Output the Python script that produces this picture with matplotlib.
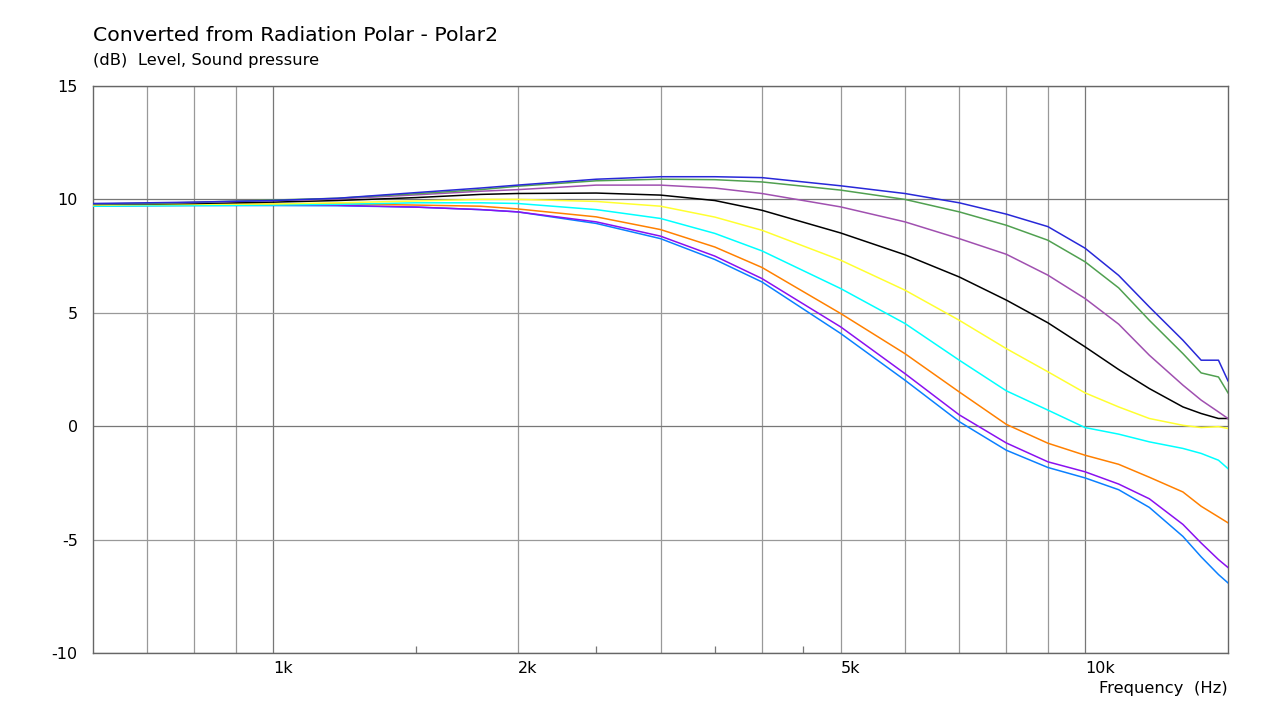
import matplotlib.pyplot as plt
from matplotlib.ticker import FixedLocator, NullFormatter

# frequency points (Hz)
freqs = [600, 700, 800, 1000, 1200, 1500, 1800, 2000, 2500, 3000, 3500, 4000,
         5000, 6000, 7000, 8000, 9000, 10000, 11000, 12000, 13200, 13900, 14600, 15000]

# level (dB) per curve, top to bottom at high frequencies
blue = [9.82, 9.85, 9.88, 9.95, 10.05, 10.3, 10.5, 10.63, 10.89, 11.0, 11.0, 10.96,
        10.6, 10.26, 9.85, 9.35, 8.8, 7.85, 6.65, 5.26, 3.79, 2.91, 2.91, 2.0]
green = [9.8, 9.82, 9.87, 9.97, 10.05, 10.25, 10.43, 10.58, 10.82, 10.89, 10.87, 10.77,
         10.41, 10.0, 9.45, 8.86, 8.2, 7.25, 6.1, 4.67, 3.2, 2.35, 2.17, 1.47]
purple = [9.8, 9.82, 9.86, 9.95, 10.02, 10.2, 10.36, 10.43, 10.63, 10.63, 10.5, 10.26,
          9.67, 9.01, 8.27, 7.58, 6.66, 5.63, 4.5, 3.13, 1.81, 1.15, 0.63, 0.34]
black = [9.78, 9.8, 9.82, 9.88, 9.95, 10.08, 10.22, 10.26, 10.28, 10.19, 9.95, 9.52,
         8.52, 7.56, 6.58, 5.56, 4.56, 3.5, 2.5, 1.66, 0.85, 0.56, 0.34, 0.34]
yellow = [9.75, 9.77, 9.78, 9.8, 9.85, 9.93, 10.0, 10.0, 9.91, 9.7, 9.22, 8.64,
          7.32, 6.0, 4.67, 3.42, 2.4, 1.47, 0.85, 0.34, 0.04, -0.06, -0.02, -0.1]
cyan = [9.7, 9.72, 9.73, 9.75, 9.78, 9.85, 9.85, 9.82, 9.55, 9.16, 8.5, 7.73,
        6.07, 4.53, 2.91, 1.56, 0.71, -0.06, -0.35, -0.69, -0.98, -1.2, -1.5, -1.87]
orange = [9.75, 9.77, 9.78, 9.8, 9.8, 9.75, 9.7, 9.58, 9.23, 8.67, 7.9, 7.0,
          4.97, 3.2, 1.51, 0.08, -0.75, -1.28, -1.68, -2.25, -2.9, -3.53, -4.0, -4.26]
violet = [9.75, 9.76, 9.76, 9.76, 9.74, 9.66, 9.55, 9.45, 9.01, 8.38, 7.5, 6.51,
          4.38, 2.32, 0.5, -0.74, -1.57, -2.01, -2.55, -3.2, -4.33, -5.15, -5.88, -6.23]
ltblue = [9.7, 9.72, 9.73, 9.73, 9.72, 9.66, 9.55, 9.45, 8.94, 8.27, 7.35, 6.36,
          4.09, 2.03, 0.2, -1.06, -1.82, -2.28, -2.8, -3.58, -4.86, -5.76, -6.54, -6.91]

curves = [(ltblue, '#0a80ff'), (violet, '#8a10f0'), (orange, '#ff8000'),
          (cyan, '#00ffff'), (yellow, '#ffff30'), (black, '#000000'),
          (purple, '#a050b0'), (green, '#50a050'), (blue, '#2828d8')]

major_x = [1000, 10000]
minor_x = [700, 800, 900, 2000, 3000, 4000, 5000, 6000, 7000, 8000, 9000]
short_ticks = [1500, 2500, 3500, 4500]
xlabels = {1000: '1k', 2000: '2k', 5000: '5k', 10000: '10k'}
yticks = [-10, -5, 0, 5, 10, 15]

plt.rcParams['font.family'] = ['DejaVu Sans']
plt.rcParams['axes.unicode_minus'] = False
fig = plt.figure(figsize=(12.62, 7.06), dpi=100)
ax = fig.add_axes([93 / 1262, 1 - 653 / 706, (1228 - 93) / 1262, (653 - 86) / 706])
ax.set_xscale('log')
ax.set_xlim(600, 15000)
ax.set_ylim(-10, 15)

# grid
for f in minor_x:
    ax.axvline(f, color='#999999', lw=0.9, zorder=1)
for f in major_x:
    ax.axvline(f, color='#777777', lw=0.9, zorder=1)
for y in yticks:
    c = '#777777' if y % 10 == 0 else '#999999'
    ax.axhline(y, color=c, lw=0.9, zorder=1)

for data, col in curves:
    ax.plot(freqs, data, color=col, lw=1.1, zorder=3)

for s in ax.spines.values():
    s.set_color('#666666')
    s.set_linewidth(1.0)

ax.xaxis.set_major_locator(FixedLocator(short_ticks))
ax.xaxis.set_major_formatter(NullFormatter())
ax.xaxis.set_minor_locator(FixedLocator([]))
ax.tick_params(axis='x', which='major', direction='in', length=5, color='#777777', width=0.9)
ax.set_yticks(yticks)
ax.tick_params(axis='y', length=0, pad=11, labelsize=11.5)

for f, lab in xlabels.items():
    ax.text(f, -10.35, lab, ha='left', va='top', fontsize=11.5,
            transform=ax.transData, clip_on=False)

fig.text(1228 / 1262, 1 - 688 / 706, 'Frequency  (Hz)', ha='right', va='center', fontsize=11.8)
fig.text(93 / 1262, 1 - 41 / 706, 'Converted from Radiation Polar - Polar2',
         ha='left', va='baseline', fontsize=14.7)
fig.text(93 / 1262, 1 - 65 / 706, '(dB)  Level, Sound pressure',
         ha='left', va='baseline', fontsize=11.8)

fig.savefig('out.png', dpi=100)
